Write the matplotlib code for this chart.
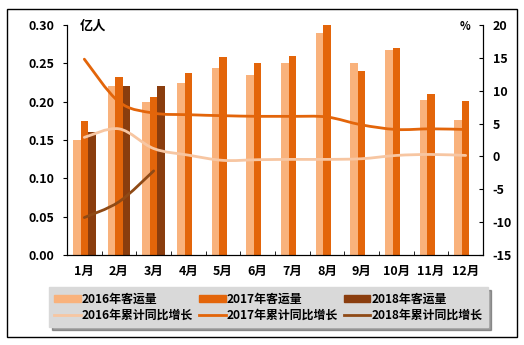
import matplotlib
matplotlib.use("Agg")
import matplotlib.pyplot as plt
import numpy as np
from matplotlib.path import Path
from matplotlib.patches import PathPatch, Rectangle, Patch
from matplotlib.lines import Line2D

plt.rcParams['font.family'] = ['Noto Sans CJK SC', 'DejaVu Sans']
plt.rcParams['font.weight'] = 'bold'
plt.rcParams['axes.unicode_minus'] = False

months = ['1月', '2月', '3月', '4月', '5月', '6月', '7月', '8月', '9月', '10月', '11月', '12月']
pax16 = [0.150, 0.220, 0.200, 0.224, 0.244, 0.235, 0.250, 0.290, 0.250, 0.267, 0.202, 0.176]
pax17 = [0.175, 0.232, 0.206, 0.237, 0.258, 0.250, 0.260, 0.300, 0.240, 0.270, 0.210, 0.201]
pax18 = [0.160, 0.220, 0.220]
grow16 = [2.9, 4.2, 1.2, 0.2, -0.6, -0.5, -0.45, -0.45, -0.35, 0.15, 0.3, 0.15]
grow17 = [14.8, 8.3, 6.6, 6.35, 6.2, 6.1, 6.1, 6.0, 4.8, 4.1, 4.2, 4.1]
grow18 = [-9.3, -6.9, -2.2]

c16, c17, c18 = '#F9B27C', '#E3650A', '#8A3D0E'
lc16, lc17, lc18 = '#F7C6A2', '#E3650A', '#8F4A16'


def smooth(ax, xs, ys, **kw):
    # excel-style smoothed line drawn as bezier path in data coords
    pts = np.column_stack([xs, ys]).astype(float)
    n = len(pts)
    verts = [pts[0]]
    codes = [Path.MOVETO]
    for i in range(n - 1):
        p0 = pts[i - 1] if i > 0 else pts[i]
        p1, p2 = pts[i], pts[i + 1]
        p3 = pts[i + 2] if i + 2 < n else pts[i + 1]
        verts += [p1 + (p2 - p0) / 6, p2 - (p3 - p1) / 6, p2]
        codes += [Path.CURVE4] * 3
    ax.add_patch(PathPatch(Path(verts, codes), fill=False, capstyle='round', **kw))


fig = plt.figure(figsize=(5.24, 3.45), dpi=100)
ax = fig.add_axes([67 / 524, 90 / 345, 416 / 524, 230 / 345])
ax2 = ax.twinx()

x = np.arange(12)
w = 0.22
ax.bar(x - w, pax16, w, color=c16)
ax.bar(x, pax17, w, color=c17)
ax.bar(np.arange(len(pax18)) + w, pax18, w, color=c18)

smooth(ax2, x, grow16, color=lc16, lw=2)
smooth(ax2, x, grow17, color=lc17, lw=2)
smooth(ax2, np.arange(len(grow18)), grow18, color=lc18, lw=2)

ax.set_xlim(-0.5, 11.5)
ax.set_ylim(0, 0.30)
ax2.set_ylim(-15, 20)
ax.set_yticks(np.arange(0, 0.31, 0.05))
ax.set_yticklabels(['%.2f' % v for v in np.arange(0, 0.31, 0.05)])
ax2.set_yticks(np.arange(-15, 21, 5))
ax.set_xticks(x)
ax.set_xticklabels(months)
ax.set_xticks(np.arange(0.5, 11, 1), minor=True)

for a in (ax, ax2):
    a.spines['top'].set_visible(False)
    a.set_xlim(-0.5, 11.5)
ax.tick_params(axis='x', which='major', length=0, pad=7, labelsize=9)
ax.tick_params(axis='x', which='minor', direction='in', length=3)
ax.tick_params(axis='y', direction='out', length=3, pad=6, labelsize=9)
ax2.tick_params(axis='y', direction='in', length=3, pad=7, labelsize=9)

ax.text(0.03, 0.995, '亿人', transform=ax.transAxes, ha='left', va='center', fontsize=9.5)
ax.text(0.957, 0.995, '%', transform=ax.transAxes, ha='center', va='center', fontsize=8)

handles = [
    Patch(color=c16), Line2D([], [], color=lc16, lw=2),
    Patch(color=c17), Line2D([], [], color=lc17, lw=2),
    Patch(color=c18), Line2D([], [], color=lc18, lw=2),
]
labels = ['2016年客运量', '2016年累计同比增长', '2017年客运量', '2017年累计同比增长',
          '2018年客运量', '2018年累计同比增长']
leg = fig.legend(handles, labels, ncol=3, loc='upper left', mode='expand',
                 bbox_to_anchor=(49 / 524, 1 - 287 / 345, 439 / 524, 0),
                 borderaxespad=0,
                 fontsize=8.6, frameon=True, fancybox=False, shadow=True,
                 handlelength=2.2, handleheight=0.5, handletextpad=0.1,
                 columnspacing=0.5, labelspacing=0.3, borderpad=0.45)
leg.get_frame().set_facecolor('#D9D9D9')
leg.get_frame().set_edgecolor('#D9D9D9')
leg.get_frame().set_alpha(1)

fig.patches.append(Rectangle((7 / 524, 8 / 345), 510 / 524, 328 / 345,
                             transform=fig.transFigure, fill=False,
                             edgecolor='black', lw=1))

fig.savefig('out.png', dpi=100)
